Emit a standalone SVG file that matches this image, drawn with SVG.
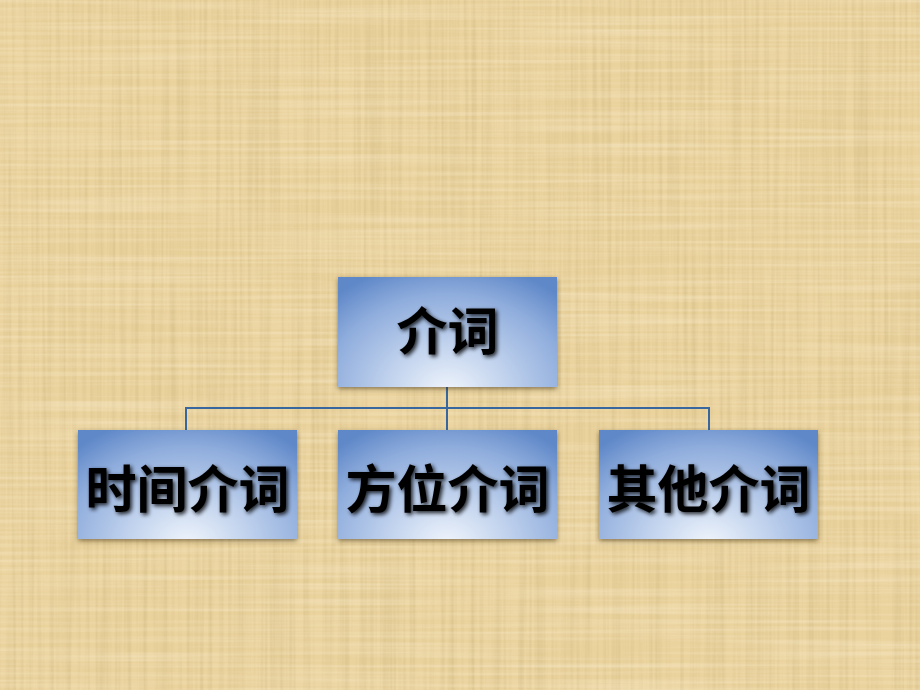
<svg xmlns="http://www.w3.org/2000/svg" width="920" height="690" viewBox="0 0 920 690">
  <defs>
    <filter id="streakV" x="0" y="0" width="100%" height="100%">
      <feTurbulence type="fractalNoise" baseFrequency="0.25 0.004" numOctaves="2" seed="3" result="n"/>
      <feColorMatrix type="matrix" values="0 0 0 0 0.55  0 0 0 0 0.42  0 0 0 0 0.18  0 0 0 -1.6 1.0"/>
    </filter>
    <filter id="streakH" x="0" y="0" width="100%" height="100%">
      <feTurbulence type="fractalNoise" baseFrequency="0.004 0.25" numOctaves="2" seed="7" result="n"/>
      <feColorMatrix type="matrix" values="0 0 0 0 0.98  0 0 0 0 0.92  0 0 0 0 0.75  0 0 0 -1.6 1.0"/>
    </filter>
    <radialGradient id="boxGrad" cx="0.5" cy="1.05" r="0.75" fx="0.5" fy="1.05" gradientTransform="translate(0.5 1.05) scale(1 1.6) translate(-0.5 -1.05)">
      <stop offset="0" stop-color="#f0f5fc"/>
      <stop offset="0.35" stop-color="#c3d4ee"/>
      <stop offset="0.75" stop-color="#8eacdc"/>
      <stop offset="1" stop-color="#5f88c8"/>
    </radialGradient>
    <filter id="boxShadow" x="-10%" y="-10%" width="120%" height="130%">
      <feGaussianBlur in="SourceAlpha" stdDeviation="2.5"/>
      <feOffset dx="0" dy="1.5" result="b"/>
      <feFlood flood-color="#3a2a10" flood-opacity="0.55"/>
      <feComposite in2="b" operator="in" result="s"/>
      <feMerge><feMergeNode in="s"/><feMergeNode in="SourceGraphic"/></feMerge>
    </filter>
    <filter id="textShadow" x="-10%" y="-20%" width="120%" height="150%">
      <feGaussianBlur in="SourceAlpha" stdDeviation="2.2"/>
      <feOffset dx="1.5" dy="2" result="b"/>
      <feComponentTransfer in="b" result="s"><feFuncA type="linear" slope="0.85"/></feComponentTransfer>
      <feMerge><feMergeNode in="s"/><feMergeNode in="SourceGraphic"/></feMerge>
    </filter>
  </defs>
  <style>
    .box { fill: url(#boxGrad); filter: url(#boxShadow); }
    .label { font-family: "Noto Sans CJK SC", "Noto Sans CJK TC", sans-serif; font-weight: 700; font-size: 51px; fill: #000; text-anchor: middle; filter: url(#textShadow); }
    .conn { fill: none; stroke: #3867a0; stroke-width: 2; }
  </style>

  <g id="background">
    <rect x="0" y="0" width="920" height="690" fill="#ebd39e"/>
    <rect x="0" y="0" width="920" height="690" filter="url(#streakV)" opacity="0.45"/>
    <rect x="0" y="0" width="920" height="690" filter="url(#streakH)" opacity="0.4"/>
  </g>

  <g id="connectors">
    <path class="conn" d="M447 387 V408"/>
    <path class="conn" d="M186 430 V408 H709 V430"/>
    <path class="conn" d="M447 408 V430"/>
  </g>

  <g id="node-root">
    <rect class="box" x="338" y="277" width="219" height="110"/>
    <text class="label" x="447.5" y="350">介词</text>
  </g>
  <g id="node-time">
    <rect class="box" x="78" y="430" width="219" height="109"/>
    <text class="label" x="187.5" y="508">时间介词</text>
  </g>
  <g id="node-place">
    <rect class="box" x="338" y="430" width="219" height="109"/>
    <text class="label" x="447.5" y="508">方位介词</text>
  </g>
  <g id="node-other">
    <rect class="box" x="599" y="430" width="219" height="109"/>
    <text class="label" x="708.5" y="508">其他介词</text>
  </g>
</svg>
